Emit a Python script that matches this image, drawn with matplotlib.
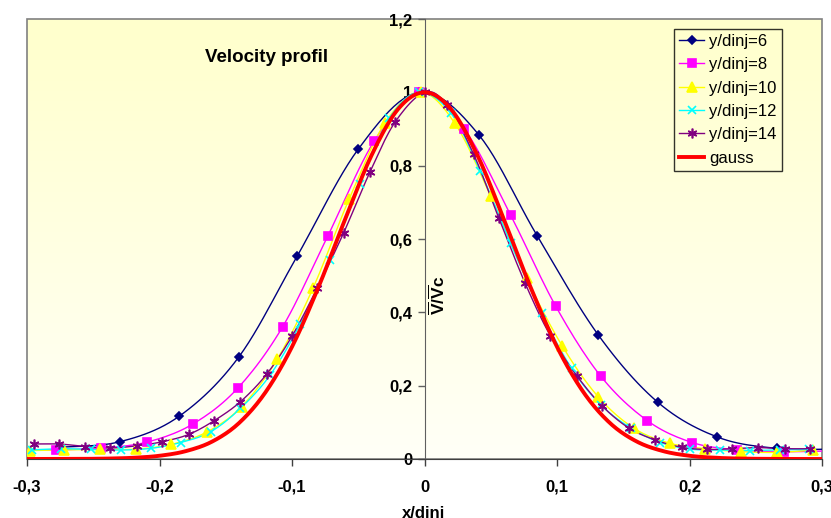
import numpy as np
import matplotlib
matplotlib.use("Agg")
from matplotlib import pyplot as plt
from matplotlib.patches import Rectangle

plt.rcParams["font.family"] = ["Liberation Sans", "DejaVu Sans"]
plt.rcParams["mathtext.fontset"] = "custom"
plt.rcParams["mathtext.bf"] = "Liberation Sans:bold"
plt.rcParams["mathtext.rm"] = "Liberation Sans"

# series
x6 = [-0.276, -0.230, -0.185, -0.140, -0.096, -0.050, -0.004, 0.041, 0.085, 0.131, 0.176, 0.221, 0.266, 0.311]
y6 = [0.032, 0.047, 0.117, 0.279, 0.554, 0.845, 1.0, 0.884, 0.609, 0.339, 0.155, 0.060, 0.029, 0.027]

x8 = [-0.313, -0.278, -0.244, -0.2095, -0.175, -0.141, -0.107, -0.073, -0.038, -0.004,
      0.030, 0.065, 0.099, 0.133, 0.168, 0.202, 0.236, 0.271, 0.305]
y8 = [0.025, 0.025, 0.030, 0.046, 0.095, 0.193, 0.361, 0.608, 0.867, 1.0,
      0.900, 0.665, 0.417, 0.226, 0.105, 0.045, 0.025, 0.020, 0.022]

x10 = [-0.298, -0.272, -0.245, -0.218, -0.191, -0.164, -0.138, -0.111, -0.084, -0.057, -0.030, -0.003,
       0.023, 0.050, 0.077, 0.104, 0.131, 0.158, 0.185, 0.212, 0.239, 0.266, 0.293]
y10 = [0.023, 0.025, 0.026, 0.027, 0.040, 0.074, 0.143, 0.273, 0.467, 0.708, 0.915, 1.0,
       0.915, 0.717, 0.493, 0.308, 0.170, 0.084, 0.043, 0.028, 0.020, 0.018, 0.024]

x12 = [-0.2965, -0.274, -0.2515, -0.229, -0.2065, -0.184, -0.1615, -0.139, -0.1165, -0.094, -0.0715,
       -0.049, -0.0265, -0.004, 0.020, 0.042, 0.065, 0.0885, 0.111, 0.133, 0.1555, 0.178, 0.2005,
       0.223, 0.2455, 0.268, 0.2905]
y12 = [0.025, 0.028, 0.026, 0.0245, 0.029, 0.045, 0.074, 0.138, 0.229, 0.367, 0.543,
       0.749, 0.929, 1.0, 0.943, 0.786, 0.588, 0.397, 0.247, 0.148, 0.085, 0.045, 0.027,
       0.0245, 0.023, 0.025, 0.026]

x14 = [-0.295, -0.276, -0.256, -0.237, -0.217, -0.198, -0.178, -0.159, -0.139, -0.119, -0.100,
       -0.081, -0.061, -0.041, -0.022, 0.0, 0.017, 0.037, 0.056, 0.076, 0.095, 0.115, 0.134,
       0.154, 0.174, 0.194, 0.213, 0.232, 0.252, 0.272, 0.291]
y14 = [0.041, 0.041, 0.034, 0.030, 0.036, 0.047, 0.067, 0.104, 0.156, 0.232, 0.335,
       0.466, 0.617, 0.784, 0.920, 1.0, 0.965, 0.832, 0.658, 0.479, 0.336, 0.227, 0.145,
       0.085, 0.052, 0.032, 0.026, 0.028, 0.031, 0.028, 0.028]

x_gauss = [-0.30, -0.28, -0.26, -0.24, -0.22, -0.20, -0.18, -0.16, -0.14, -0.12, -0.10, -0.08, -0.06,
           -0.04, -0.02, 0.0, 0.02, 0.04, 0.06, 0.08, 0.10, 0.12, 0.14, 0.16, 0.18, 0.20, 0.22,
           0.24, 0.26, 0.28, 0.30]
y_gauss = [0.0, 0.0001, 0.0003, 0.0011, 0.0033, 0.0088, 0.0216, 0.048, 0.098, 0.182, 0.306, 0.469, 0.653,
           0.828, 0.954, 1.0, 0.954, 0.828, 0.653, 0.469, 0.306, 0.182, 0.098, 0.048, 0.0216, 0.0088, 0.0033,
           0.0011, 0.0003, 0.0001, 0.0]

x_ticks = [-0.3, -0.2, -0.1, 0.0, 0.1, 0.2, 0.3]
x_labels = ["-0,3", "-0,2", "-0,1", "0", "0,1", "0,2", "0,3"]
y_ticks = [0.0, 0.2, 0.4, 0.6, 0.8, 1.0, 1.2]
y_labels = ["0", "0,2", "0,4", "0,6", "0,8", "1", "1,2"]


def smooth(xs, ys, n=12):
    # Excel-like smoothed line (Catmull-Rom through the points)
    p = np.column_stack([xs, ys]).astype(float)
    p = np.vstack([p[0], p, p[-1]])
    out = []
    t = np.linspace(0, 1, n, endpoint=False)[:, None]
    for i in range(1, len(p) - 2):
        p0, p1, p2, p3 = p[i - 1], p[i], p[i + 1], p[i + 2]
        seg = 0.5 * ((2 * p1) + (-p0 + p2) * t + (2 * p0 - 5 * p1 + 4 * p2 - p3) * t ** 2
                     + (-p0 + 3 * p1 - 3 * p2 + p3) * t ** 3)
        out.append(seg)
    out.append(p[-2][None, :])
    out = np.vstack(out)
    return out[:, 0], out[:, 1]


fig = plt.figure(figsize=(8.31, 5.18), dpi=100)
ax = fig.add_axes([27 / 831, 1 - 459 / 518, 795 / 831, 440 / 518])

# yellow-to-white plot area
grad = np.linspace(0, 1, 256)[:, None]
top = np.array([1.0, 1.0, 0.80])
bot = np.array([1.0, 1.0, 0.97])
img = top[None, None, :] * (1 - grad[:, :, None]) + bot[None, None, :] * grad[:, :, None]
ax.imshow(img, extent=[0, 1, 0, 1], transform=ax.transAxes, aspect="auto", zorder=0)
ax.add_patch(Rectangle((0, 0), 1, 1, transform=ax.transAxes, fill=False,
                       edgecolor="#808080", lw=1.2, zorder=1, clip_on=False))

series = [
    (x6, y6, "#000080", "D", 4, "y/dinj=6"),
    (x8, y8, "#FF00FF", "s", 6, "y/dinj=8"),
    (x10, y10, "#FFFF00", "^", 6.5, "y/dinj=10"),
    (x12, y12, "#00FFFF", "x", 6, "y/dinj=12"),
    (x14, y14, "#800080", (6, 2, 0), 7, "y/dinj=14"),
]
handles = []
for xs, ys, col, mk, ms, lab in series:
    sx, sy = smooth(xs, ys)
    ax.plot(sx, sy, color=col, lw=1.0, zorder=3)
    ax.plot(xs, ys, ls="none", marker=mk, ms=ms, color=col, mec=col, mew=1.2, zorder=4)
    h, = ax.plot([], [], color=col, lw=1.0, marker=mk, ms=ms, mec=col, mew=1.2, label=lab)
    handles.append(h)

gx, gy = smooth(x_gauss, y_gauss)
ax.plot(gx, gy, color="#FF0000", lw=2.8, zorder=5)
h, = ax.plot([], [], color="#FF0000", lw=2.8, label="gauss")
handles.append(h)

ax.set_xlim(-0.3, 0.3)
ax.set_ylim(0, 1.2)

for s in ["top", "right"]:
    ax.spines[s].set_visible(False)
ax.spines["left"].set_position(("data", 0))
ax.spines["left"].set_color("#606060")
ax.spines["bottom"].set_color("#404040")
ax.spines["left"].set_zorder(2)

ax.set_xticks(x_ticks)
ax.set_xticklabels(x_labels, fontweight="bold", fontsize=12)
ax.set_yticks(y_ticks)
ax.set_yticklabels(y_labels, fontweight="bold", fontsize=12)
ax.tick_params(axis="x", direction="out", length=5, width=1, color="#404040", pad=10)
ax.tick_params(axis="y", direction="out", length=5, width=1, color="#606060", pad=4)

ax.text(-0.119, 1.095, "Velocity profil", fontsize=13.5, fontweight="bold",
        ha="center", va="center", zorder=6)
ax.text(0.0098, 0.447, r"$\mathbf{\overline{V}/\overline{V}c}$", fontsize=12.5, rotation=90,
        ha="center", va="center", zorder=6)
fig.text(424 / 831, 0.0, "x/dinj", fontsize=12, fontweight="bold", ha="center", va="baseline")

leg = ax.legend(handles=handles, loc="upper left", bbox_to_anchor=((674 - 27) / 795, (459 - 29) / 440),
                borderaxespad=0, frameon=True, fancybox=False, edgecolor="black", facecolor="none",
                fontsize=12, handlelength=1.5, handletextpad=0.3, labelspacing=0.5, borderpad=0.3)
leg.get_frame().set_linewidth(1.0)
leg.set_zorder(7)

fig.savefig("out.png", dpi=100)
